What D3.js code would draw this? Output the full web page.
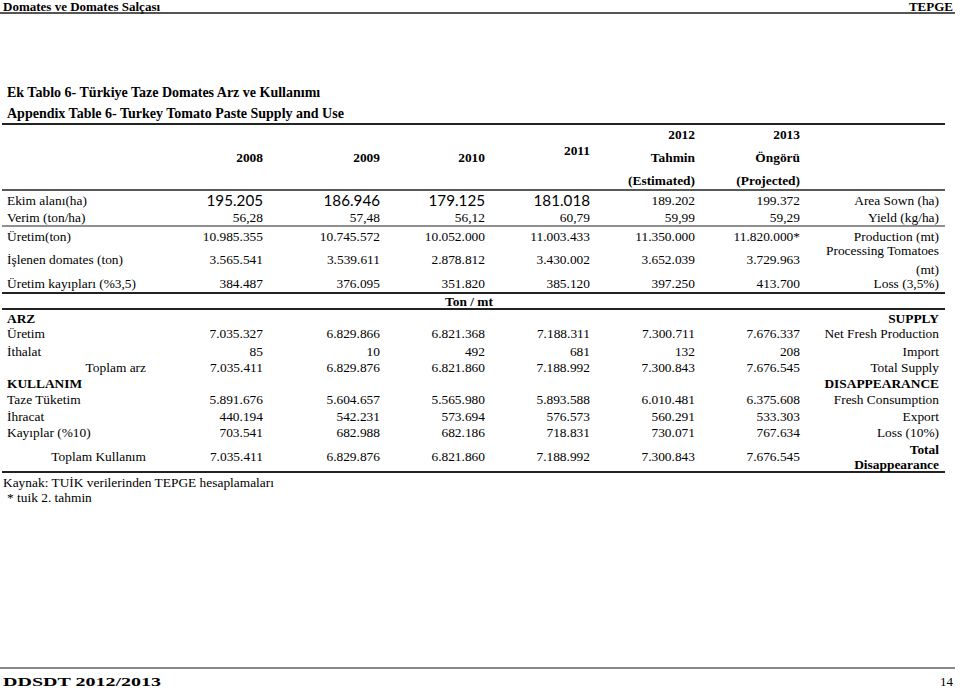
<!DOCTYPE html>
<html><head><meta charset="utf-8">
<script src="https://cdn.jsdelivr.net/npm/d3@7"></script>
<style>body{margin:0;background:#fff}svg{display:block}</style>
</head><body>
<svg id="chart" width="960" height="688"></svg>
<script>
// ---------- DATA ----------
const years = ["2008","2009","2010","2011","2012","2013"];
const yearSub1 = ["", "", "", "", "Tahmin", "Öngörü"];
const yearSub2 = ["", "", "", "", "(Estimated)", "(Projected)"];

const areaSown = [195205, 186946, 179125, 181018, 189202, 199372];
const yieldVals = [56.28, 57.48, 56.12, 60.79, 59.99, 59.29];
const production = [10985355, 10745572, 10052000, 11003433, 11350000, 11820000];
const productionNote = ["", "", "", "", "", "*"];
const processing = [3565541, 3539611, 2878812, 3430002, 3652039, 3729963];
const prodLoss = [384487, 376095, 351820, 385120, 397250, 413700];

const netFresh = [7035327, 6829866, 6821368, 7188311, 7300711, 7676337];
const imports = [85, 10, 492, 681, 132, 208];
const totalSupply = [7035411, 6829876, 6821860, 7188992, 7300843, 7676545];
const freshCons = [5891676, 5604657, 5565980, 5893588, 6010481, 6375608];
const exports_ = [440194, 542231, 573694, 576573, 560291, 533303];
const loss10 = [703541, 682988, 682186, 718831, 730071, 767634];
const totalDisapp = [7035411, 6829876, 6821860, 7188992, 7300843, 7676545];

const leftLabels = ["Ekim alanı(ha)", "Verim (ton/ha)", "Üretim(ton)", "İşlenen domates (ton)", "Üretim kayıpları (%3,5)",
  "Üretim", "İthalat", "Toplam arz", "Taze Tüketim", "İhracat", "Kayıplar (%10)", "Toplam Kullanım"];
const rightLabels = ["Area Sown (ha)", "Yield (kg/ha)", "Production (mt)", "Processing Tomatoes|(mt)", "Loss (3,5%)",
  "Net Fresh Production", "Import", "Total Supply", "Fresh Consumption", "Export", "Loss (10%)", "Total|Disappearance"];

// ---------- LAYOUT ----------
const svg = d3.select("#chart");
const serif = "'Liberation Serif','Times New Roman',serif";
const tr = d3.formatLocale({decimal: ",", thousands: ".", grouping: [3], currency: ["", ""]});
const fInt = tr.format(",d"), fDec = tr.format(",.2f");

// column right edges through a piecewise linear scale on column index
const x = d3.scaleLinear().domain([0, 1, 5]).range([263, 380, 800]);
const colX = (i) => x(i);

const rows = [
  {key:"area", vals: areaSown, fmt: fInt, y: 205, sansUpTo: 3},
  {key:"yield", vals: yieldVals, fmt: fDec, y: 222},
  {key:"prod", vals: production, fmt: fInt, y: 241, note: productionNote},
  {key:"proc", vals: processing, fmt: fInt, y: 264},
  {key:"ploss", vals: prodLoss, fmt: fInt, y: 288},
  {key:"net", vals: netFresh, fmt: fInt, y: 338},
  {key:"imp", vals: imports, fmt: fInt, y: 356},
  {key:"tsup", vals: totalSupply, fmt: fInt, y: 372},
  {key:"fresh", vals: freshCons, fmt: fInt, y: 404},
  {key:"exp", vals: exports_, fmt: fInt, y: 421},
  {key:"l10", vals: loss10, fmt: fInt, y: 437},
  {key:"tdis", vals: totalDisapp, fmt: fInt, y: 461}
];
const leftAlign = [null,null,null,null,null,null,null,"right",null,null,null,"right"];
const rightYs = [[205],[222],[241],[255,274],[288],[338],[356],[372],[404],[421],[437],[454,469]];

// ---------- RULES ----------
const rules = [
  {y: 13, x1: 0, x2: 955, w: 2, c: "#555"},
  {y: 124, x1: 2, x2: 945, w: 2, c: "#222"},
  {y: 190, x1: 2, x2: 945, w: 1.6, c: "#222"},
  {y: 226, x1: 2, x2: 945, w: 1.2, c: "#222"},
  {y: 293, x1: 2, x2: 945, w: 2, c: "#222"},
  {y: 309, x1: 2, x2: 945, w: 2, c: "#222"},
  {y: 472, x1: 2, x2: 945, w: 2, c: "#222"},
  {y: 668, x1: 0, x2: 955, w: 2, c: "#888"}
];
svg.selectAll("line.rule").data(rules).join("line").attr("class","rule")
  .attr("x1", d=>d.x1).attr("x2", d=>d.x2).attr("y1", d=>d.y).attr("y2", d=>d.y)
  .attr("stroke", d=>d.c).attr("stroke-width", d=>d.w);

function txt(s, xx, yy, opt={}) {
  const t = svg.append("text").attr("x", xx).attr("y", yy).text(s)
    .attr("font-family", opt.family || serif).attr("font-size", opt.size || 13.4)
    .attr("font-weight", opt.bold ? "bold" : "normal").attr("fill", "#000")
    .attr("text-anchor", opt.anchor || "start");
  if (opt.len) t.attr("textLength", opt.len).attr("lengthAdjust", "spacingAndGlyphs");
  return t;
}

// page header / footer
txt("Domates ve Domates Salçası", 3, 11, {bold:true, size:13});
txt("TEPGE", 953, 11, {bold:true, size:13, anchor:"end"});
txt("Ek Tablo 6- Türkiye Taze Domates Arz ve Kullanımı", 7, 97, {bold:true, size:14});
txt("Appendix Table 6- Turkey Tomato Paste Supply and Use", 7, 118, {bold:true, size:14});
txt("DDSDT 2012/2013", 3, 686, {bold:true, size:13, len:158});
txt("14", 953, 686, {size:13, anchor:"end"});

// year header
years.forEach((yr, i) => {
  if (yearSub1[i]) {
    txt(yr, colX(i), 139, {bold:true, anchor:"end"});
    txt(yearSub1[i], colX(i), 162, {bold:true, anchor:"end"});
    txt(yearSub2[i], colX(i), 185, {bold:true, anchor:"end"});
  } else if (i === 3) {
    txt(yr, colX(i), 155, {bold:true, anchor:"end"});
  } else {
    txt(yr, colX(i), 162, {bold:true, anchor:"end"});
  }
});

// body rows
rows.forEach((r, ri) => {
  const lbl = leftLabels[ri];
  if (leftAlign[ri] === "right") txt(lbl, 146, r.y, {anchor:"end"});
  else txt(lbl, 7, r.y);
  r.vals.forEach((v, i) => {
    const s = r.fmt(v) + (r.note ? r.note[i] : "");
    const sans = r.sansUpTo !== undefined && i <= r.sansUpTo;
    txt(s, colX(i), r.y + (sans ? 1 : 0), sans ? {anchor:"end", family:"Lato, 'Open Sans', sans-serif", size:15.2} : {anchor:"end"});
  });
  const parts = rightLabels[ri].split("|");
  const multiBold = ri === 11;
  parts.forEach((p, k) => txt(p, 939, rightYs[ri][k], {anchor:"end", bold: multiBold}));
});

// section headings
txt("Ton / mt", 469, 306, {bold:true, anchor:"middle"});
txt("ARZ", 7, 323, {bold:true});
txt("SUPPLY", 939, 323, {bold:true, anchor:"end"});
txt("KULLANIM", 7, 388, {bold:true});
txt("DISAPPEARANCE", 939, 388, {bold:true, anchor:"end"});

// notes
txt("Kaynak: TUİK verilerinden TEPGE hesaplamaları", 3, 487);
txt("* tuik 2. tahmin", 7, 502);
</script>
</body></html>
